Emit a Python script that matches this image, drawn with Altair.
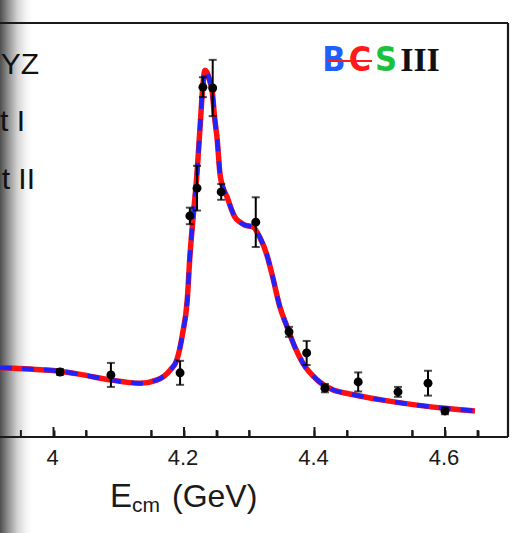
import altair as alt
import pandas as pd

# ---------------- data ----------------
# XYZ data points: centre-of-mass energy (GeV), cross section (arb. units), error
E_data = [4.010, 4.088, 4.194, 4.209, 4.220, 4.229, 4.244, 4.257, 4.310,
          4.361, 4.388, 4.416, 4.467, 4.528, 4.574, 4.600]
sigma = [15.7, 15.0, 15.5, 53.4, 60.1, 84.5, 84.3, 59.2, 51.9,
         25.4, 20.3, 11.8, 13.3, 10.9, 13.0, 6.3]
sigma_err = [0.7, 2.9, 2.9, 2.0, 5.4, 2.4, 6.8, 1.9, 6.0,
             1.2, 2.9, 1.0, 2.3, 1.2, 3.0, 0.8]

# fit curves (solution I red solid, solution II blue dashed)
E_fit = [3.918, 3.964, 4.010, 4.045, 4.087, 4.133, 4.159, 4.179, 4.189, 4.198,
         4.205, 4.209, 4.214, 4.220, 4.225, 4.229, 4.232, 4.235, 4.240, 4.243,
         4.247, 4.251, 4.255, 4.261, 4.266, 4.272, 4.278, 4.286, 4.293, 4.306,
         4.316, 4.327, 4.336, 4.347, 4.358, 4.370, 4.382, 4.404, 4.428, 4.454,
         4.505, 4.557, 4.608, 4.646]
fit_I = [16.7, 16.4, 15.9, 15.0, 13.8, 13.0, 13.8, 16.2, 18.6, 25.1,
         33.1, 43.5, 53.1, 63.8, 75.8, 85.0, 88.6, 88.2, 85.7, 83.8,
         77.1, 71.7, 63.8, 59.7, 58.0, 55.3, 53.1, 51.9, 51.2, 50.7,
         48.3, 44.0, 38.6, 31.4, 26.6, 21.7, 17.9, 13.8, 11.4, 10.4,
         8.9, 7.7, 6.8, 6.3]
fit_II = [16.7, 16.4, 15.9, 15.0, 13.8, 13.0, 13.8, 16.2, 18.6, 25.1,
          33.1, 43.5, 53.1, 63.8, 75.8, 85.0, 88.6, 88.2, 85.7, 83.8,
          77.1, 71.7, 63.8, 59.7, 58.0, 55.3, 53.1, 51.9, 51.2, 50.7,
          48.3, 44.0, 38.6, 31.4, 26.6, 21.7, 17.9, 13.8, 11.4, 10.4,
          8.9, 7.7, 6.8, 6.3]

major_ticks = [4.0, 4.2, 4.4, 4.6]
tick_labels = ["4", "4.2", "4.4", "4.6"]
minor_ticks = [3.95, 4.05, 4.15, 4.25, 4.30, 4.45, 4.55, 4.65]
legend_labels = ["XYZ", "Fit I", "Fit II"]

# ---------------- build tables ----------------
pts = pd.DataFrame({"E": E_data, "s": sigma, "err": sigma_err})
pts["lo"] = pts["s"] - pts["err"]
pts["hi"] = pts["s"] + pts["err"]
fitI_df = pd.DataFrame({"E": E_fit, "s": fit_I})
fitII_df = pd.DataFrame({"E": E_fit, "s": fit_II})
major_df = pd.DataFrame({"E": major_ticks})
minor_df = pd.DataFrame({"E": minor_ticks})
label_df = pd.DataFrame({"E": major_ticks, "lab": tick_labels})
one = alt.Data(values=[{}])

W, H = 508, 414
xscale = alt.Scale(domain=[3.918, 4.6966], nice=False, zero=False)
yscale = alt.Scale(domain=[0, 100], nice=False, zero=False)
INK = "#1a1a1a"

# axis used only for inward ticks (shifted up into the plot by its offset)
tick_axis = alt.Axis(values=sorted(major_ticks + minor_ticks), offset=-7,
                     tickSize=7, tickWidth=2, tickColor=INK, domain=False,
                     labels=False, grid=False, title=None)
X = alt.X("E:Q", scale=xscale, axis=tick_axis, title=None)
Y = alt.Y("s:Q", scale=yscale, axis=None)

# page-curl shadow at left
shadow = alt.Chart(one).mark_rect(
    color={"gradient": "linear", "x1": 0, "x2": 1, "y1": 0, "y2": 0,
           "stops": [{"offset": 0, "color": "#4e4e4e"},
                     {"offset": 0.25, "color": "#8f8f8f"},
                     {"offset": 0.55, "color": "#d4d4d4"},
                     {"offset": 0.8, "color": "#f3f3f3"},
                     {"offset": 1, "color": "#ffffff"}]}
).encode(x=alt.value(0), x2=alt.value(32), y=alt.value(-23), y2=alt.value(510))

frame_top = alt.Chart(one).mark_rule(color=INK, strokeWidth=2.2).encode(
    x=alt.value(0), x2=alt.value(W), y=alt.value(0))
frame_right = alt.Chart(one).mark_rule(color=INK, strokeWidth=2.2).encode(
    x=alt.value(W), y=alt.value(0), y2=alt.value(H))
frame_bottom = alt.Chart(one).mark_rule(color=INK, strokeWidth=2.2).encode(
    x=alt.value(0), x2=alt.value(W), y=alt.value(H))

red = alt.Chart(fitI_df).mark_line(color="#ff1010", strokeWidth=5.5,
                                   interpolate="monotone").encode(x=X, y=Y)
blue = alt.Chart(fitII_df).mark_line(color="#2222ff", strokeWidth=4.5,
                                     strokeDash=[12, 10],
                                     interpolate="monotone").encode(x=X, y=Y)

bars = alt.Chart(pts).mark_rule(color="black", strokeWidth=2).encode(
    x=X, y=alt.Y("lo:Q", scale=yscale, axis=None), y2="hi:Q")
cap_lo = alt.Chart(pts).mark_tick(color="black", orient="horizontal",
                                  size=8, thickness=2).encode(
    x=X, y=alt.Y("lo:Q", scale=yscale, axis=None))
cap_hi = alt.Chart(pts).mark_tick(color="black", orient="horizontal",
                                  size=8, thickness=2).encode(
    x=X, y=alt.Y("hi:Q", scale=yscale, axis=None))
dots = alt.Chart(pts).mark_point(filled=True, shape="circle", size=80,
                                 color="black", opacity=1).encode(x=X, y=Y)

# longer major ticks and minor ticks drawn as rules as well
major = alt.Chart(major_df).mark_rule(color=INK, strokeWidth=2).encode(
    x=X, y=alt.value(H - 10), y2=alt.value(H))
minor = alt.Chart(minor_df).mark_rule(color=INK, strokeWidth=2).encode(
    x=X, y=alt.value(H - 7), y2=alt.value(H))

labels = alt.Chart(label_df).mark_text(
    font="Liberation Sans", fontSize=22, color=INK, baseline="top", dx=-1
).encode(x=X, y=alt.value(H + 11), text="lab:N")

# cropped legend text
legend_pos = [(39, 42), (25, 99), (35, 157)]
legend = [alt.Chart(one).mark_text(text=lab, align="right", baseline="middle",
                                   font="Liberation Sans", fontSize=30, color="#111111")
          .encode(x=alt.value(px), y=alt.value(py))
          for lab, (px, py) in zip(legend_labels, legend_pos)]

# x-axis title E_cm (GeV)
t_E = alt.Chart(one).mark_text(text="E", align="left", baseline="alphabetic",
                               font="Liberation Sans", fontSize=33, color=INK
                               ).encode(x=alt.value(110), y=alt.value(484))
t_cm = alt.Chart(one).mark_text(text="cm", align="left", baseline="alphabetic",
                                font="Liberation Sans", fontSize=21, color=INK
                                ).encode(x=alt.value(132), y=alt.value(489))
t_unit = alt.Chart(one).mark_text(text="(GeV)", align="left", baseline="alphabetic",
                                  font="Liberation Sans", fontSize=32, color=INK
                                  ).encode(x=alt.value(172), y=alt.value(484))

# BESIII logo
logo_font = "DejaVu Sans Condensed, Liberation Sans, sans-serif"
logo_B = alt.Chart(one).mark_text(text="B", font=logo_font, fontWeight="bold",
                                  fontSize=34, color="#1f5fff", baseline="middle"
                                  ).encode(x=alt.value(334), y=alt.value(38))
logo_E = alt.Chart(one).mark_text(text="C", font=logo_font, fontWeight="bold",
                                  fontSize=34, color="#ff1a1a", baseline="middle"
                                  ).encode(x=alt.value(360), y=alt.value(38))
logo_S = alt.Chart(one).mark_text(text="S", font=logo_font, fontWeight="bold",
                                  fontSize=34, color="#19c23a", baseline="middle"
                                  ).encode(x=alt.value(386), y=alt.value(38))
logo_III = alt.Chart(one).mark_text(text="III", font="Liberation Serif",
                                    fontWeight="bold", fontSize=34, color="#111111",
                                    baseline="middle"
                                    ).encode(x=alt.value(420), y=alt.value(38))
logo_line = alt.Chart(one).mark_rule(color="#ff1a1a", strokeWidth=2.2).encode(
    x=alt.value(327), x2=alt.value(372), y=alt.value(38))

chart = alt.layer(
    shadow, frame_top, frame_right, frame_bottom, red, blue,
    bars, cap_lo, cap_hi, dots, major, minor, labels, *legend,
    t_E, t_cm, t_unit,
    logo_B, logo_E, logo_S, logo_III, logo_line
).properties(
    width=W, height=H,
    padding={"left": 0, "top": 23, "right": 12, "bottom": 96},
    autosize=alt.AutoSizeParams(type="none"),
    background="white"
).configure_view(stroke=None)

chart.save("out.html", embed_options={"renderer": "svg", "actions": False})
